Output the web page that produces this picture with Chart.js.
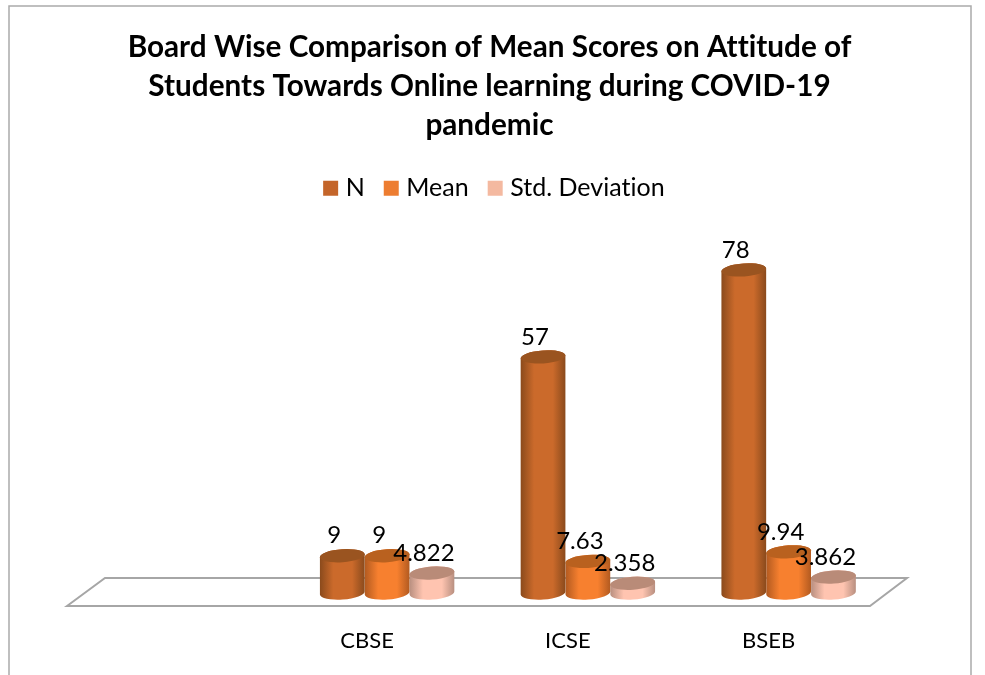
<!DOCTYPE html>
<html>
<head>
<meta charset="utf-8">
<style>
html, body { margin: 0; padding: 0; background: #fff; overflow: hidden; }
canvas { display: block; }
</style>
<script src="https://cdn.jsdelivr.net/npm/chart.js@4"></script>
</head>
<body>
<canvas id="myChart" width="985" height="675"></canvas>
<script>
const titleLines = [
    "Board Wise Comparison of Mean Scores on Attitude of",
    "Students Towards Online learning during COVID-19",
    "pandemic",
];
// first category is empty in the original, the bars start from the second slot
const categories = ["", "CBSE", "ICSE", "BSEB"];
const seriesNames = ["N", "Mean", "Std. Deviation"];
const nValues = [null, 9, 57, 78];
const meanValues = [null, 9, 7.63, 9.94];
const stdValues = [null, 4.822, 2.358, 3.862];

const legendColors = ["#c4652a", "#ed7d31", "#f4b9a0"];
const edgeColors = ["#8a4a1c", "#b25a20", "#b88f80"];
const midColors = ["#cb6a2b", "#f7802f", "#ffc4b0"];
const topColors = ["#9a5420", "#b9611f", "#b98b78"];

const fontName = "Lato, 'Open Sans', sans-serif";

// cylinders instead of flat bars, the floor and the value labels
const cylinderPlugin = {
    id: "cylinders",
    afterLayout(chart) {
        chart.legend.left += 9;
        chart.legend.right += 9;
        chart.titleBlock.left += 2;
        chart.titleBlock.right += 2;
    },
    beforeDraw(chart) {
        // tiny spacing so Lato does not join "tt" and "ti"
        chart.ctx.letterSpacing = "0.01px";
    },
    beforeDatasetsDraw(chart) {
        const ctx = chart.ctx;
        const area = chart.chartArea;
        ctx.save();
        // chart frame, it runs off the bottom of the picture
        ctx.strokeStyle = "#ababab";
        ctx.lineWidth = 1.5;
        ctx.beginPath();
        ctx.moveTo(9, chart.height);
        ctx.lineTo(9, 6);
        ctx.lineTo(971, 6);
        ctx.lineTo(971, chart.height);
        ctx.stroke();
        // floor
        ctx.strokeStyle = "#a6a6a6";
        ctx.lineWidth = 2;
        ctx.beginPath();
        ctx.moveTo(area.left - 19, area.bottom + 13);
        ctx.lineTo(area.left + 19, area.bottom - 15);
        ctx.lineTo(area.right + 18, area.bottom - 15);
        ctx.lineTo(area.right - 19, area.bottom + 13);
        ctx.closePath();
        ctx.stroke();
        ctx.restore();
    },
    beforeDatasetDraw(chart, args) {
        const ctx = chart.ctx;
        const tilt = -0.07;
        const values = chart.data.datasets[args.index].data;
        args.meta.data.forEach((bar, j) => {
            if (values[j] === null) {
                return;
            }
            const rx = bar.width / 2;
            const ry = 6.5;
            const grad = ctx.createLinearGradient(bar.x - rx, 0, bar.x + rx, 0);
            grad.addColorStop(0, edgeColors[args.index]);
            grad.addColorStop(0.3, midColors[args.index]);
            grad.addColorStop(0.72, midColors[args.index]);
            grad.addColorStop(1, edgeColors[args.index]);
            ctx.save();
            ctx.fillStyle = grad;
            ctx.beginPath();
            ctx.ellipse(bar.x, bar.base, rx, ry, tilt, 0, Math.PI);
            ctx.ellipse(bar.x, bar.y, rx, ry, tilt, Math.PI, Math.PI * 2);
            ctx.closePath();
            ctx.fill();
            ctx.fillStyle = topColors[args.index];
            ctx.beginPath();
            ctx.ellipse(bar.x, bar.y, rx, ry, tilt, 0, Math.PI * 2);
            ctx.fill();
            ctx.restore();
        });
        return false;
    },
    afterDatasetsDraw(chart) {
        const ctx = chart.ctx;
        ctx.save();
        ctx.fillStyle = "#000";
        ctx.font = "24px " + fontName;
        ctx.textAlign = "center";
        ctx.textBaseline = "middle";
        chart.data.datasets.forEach((dataset, i) => {
            chart.getDatasetMeta(i).data.forEach((bar, j) => {
                if (dataset.data[j] !== null) {
                    ctx.fillText(String(dataset.data[j]), bar.x - 8, bar.y - 20);
                }
            });
        });
        ctx.restore();
    },
};

const seriesValues = [nValues, meanValues, stdValues];

new Chart(document.getElementById("myChart"), {
    type: "bar",
    data: {
        labels: categories,
        datasets: seriesNames.map((name, i) => ({
            label: name,
            data: seriesValues[i],
            backgroundColor: legendColors[i],
            borderColor: legendColors[i],
            borderWidth: 10,
            categoryPercentage: 0.67,
            barPercentage: 1,
        })),
    },
    options: {
        responsive: false,
        animation: false,
        layout: { padding: { left: 86, right: 96 } },
        plugins: {
            tooltip: { enabled: false },
            title: {
                display: true,
                text: titleLines,
                color: "#000",
                font: { family: fontName, size: 29.7, weight: "bold", lineHeight: 1.31 },
                padding: { top: 28, bottom: 7 },
            },
            legend: {
                position: "top",
                labels: {
                    color: "#000",
                    font: { family: fontName, size: 25 },
                    boxWidth: 5,
                    boxHeight: 5,
                    padding: 24,
                },
            },
        },
        scales: {
            x: {
                afterFit(scale) {
                    scale.height = 82;
                },
                grid: { display: false },
                border: { display: false },
                ticks: {
                    color: "#000",
                    font: { family: fontName, size: 22 },
                    labelOffset: -20,
                    padding: 27,
                    maxRotation: 0,
                },
            },
            y: {
                display: false,
                min: 0,
                max: 92.3,
            },
        },
    },
    plugins: [cylinderPlugin],
});
</script>
</body>
</html>
